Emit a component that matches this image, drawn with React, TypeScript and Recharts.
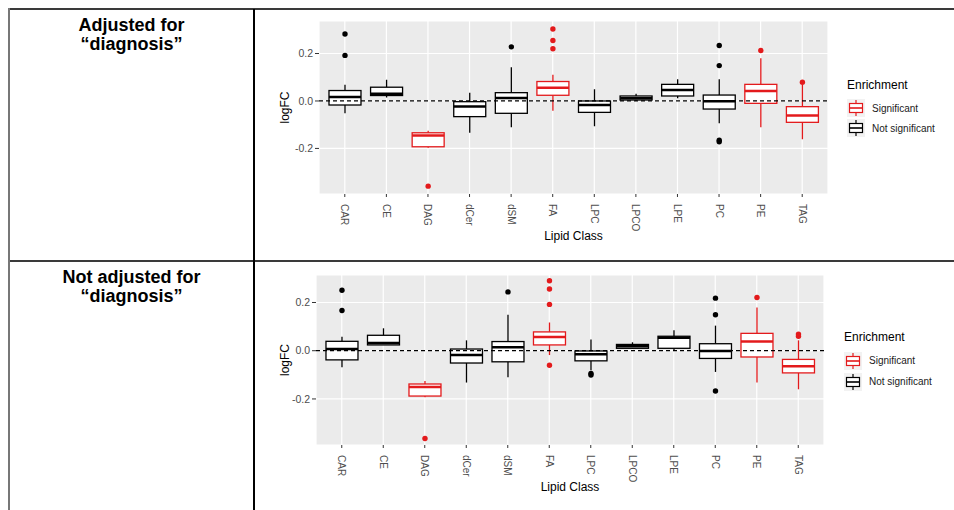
import {
    ComposedChart,
    XAxis,
    YAxis,
    CartesianGrid,
    Bar,
    ReferenceLine,
    Legend
} from 'recharts'

const lipidClasses = ['CAR', 'CE', 'DAG', 'dCer', 'dSM', 'FA', 'LPC', 'LPCO', 'LPE', 'PC', 'PE', 'TAG'];
const significant = [false, false, true, false, false, true, false, false, false, false, true, true];

// Ajustado por "diagnosis"
const lowAdj = [-0.052, 0.015, -0.197, -0.134, -0.111, -0.041, -0.106, 0.001, 0.011, -0.094, -0.111, -0.161];
const q1Adj = [-0.017, 0.023, -0.193, -0.066, -0.052, 0.024, -0.048, 0.004, 0.021, -0.034, -0.010, -0.090];
const medAdj = [0.017, 0.030, -0.145, -0.023, 0.013, 0.056, -0.017, 0.011, 0.046, -0.001, 0.042, -0.061];
const q3Adj = [0.044, 0.058, -0.134, -0.003, 0.035, 0.082, 0.000, 0.021, 0.070, 0.025, 0.070, -0.024];
const highAdj = [0.068, 0.089, -0.125, 0.035, 0.142, 0.110, 0.049, 0.030, 0.092, 0.092, 0.180, 0.068];
const outAdj = [[0.282, 0.192], [], [-0.359], [], [0.228], [0.303, 0.255, 0.220], [], [], [], [0.234, 0.149, -0.165, -0.172], [0.213], [0.079]];

// Sin ajustar
const lowNa = [-0.069, 0.024, -0.193, -0.132, -0.110, -0.018, -0.081, 0.008, 0.001, -0.088, -0.132, -0.160];
const q1Na = [-0.038, 0.024, -0.188, -0.051, -0.046, 0.024, -0.042, 0.010, 0.010, -0.032, -0.026, -0.092];
const medNa = [0.007, 0.032, -0.150, -0.018, 0.014, 0.057, -0.015, 0.019, 0.054, -0.001, 0.038, -0.064];
const q3Na = [0.039, 0.064, -0.138, 0.007, 0.038, 0.078, -0.001, 0.026, 0.060, 0.029, 0.072, -0.036];
const highNa = [0.058, 0.093, -0.126, 0.043, 0.149, 0.117, 0.046, 0.035, 0.085, 0.104, 0.179, 0.043];
const outNa = [[0.251, 0.167], [], [-0.364], [], [0.244], [0.290, 0.256, 0.192, -0.060], [-0.094, -0.101], [], [], [0.218, 0.149, -0.167], [0.221], [0.069, 0.060]];

const yTicks = [-0.2, 0, 0.2];
const yMinorTicks = [-0.3, -0.1, 0.1, 0.3];

const RED = '#E31A1C';
const FONT = '"Liberation Sans", Arial, sans-serif';

const buildRows = (low: number[], q1: number[], med: number[], q3: number[], high: number[], out: number[][]) =>
    lipidClasses.map((lipid, i) => ({
        lipid,
        sig: significant[i],
        q1: q1[i],
        med: med[i],
        q3: q3[i],
        low: low[i],
        high: high[i],
        out: out[i],
        range: [Math.min(low[i], ...out[i]), Math.max(high[i], ...out[i])]
    }));

const BoxShape = (props: any) => {
    const { x, y, width, height, payload } = props;
    if (!payload || !payload.range) return null;
    const [lo, hi] = payload.range;
    const top = Math.min(y, y + height);
    const bot = Math.max(y, y + height);
    const py = (v: number) => (hi === lo ? top : top + ((hi - v) / (hi - lo)) * (bot - top));
    const cx = x + width / 2;
    const color = payload.sig ? RED : '#000';
    return (
        <g>
            <line x1={cx} x2={cx} y1={py(payload.high)} y2={py(payload.q3)} stroke={color} strokeWidth={1.3} />
            <line x1={cx} x2={cx} y1={py(payload.q1)} y2={py(payload.low)} stroke={color} strokeWidth={1.3} />
            <rect x={x} y={py(payload.q3)} width={width} height={Math.max(py(payload.q1) - py(payload.q3), 0.5)}
                fill="#fff" stroke={color} strokeWidth={1.3} />
            <line x1={x} x2={x + width} y1={py(payload.med)} y2={py(payload.med)} stroke={color} strokeWidth={2.5} />
            {payload.out.map((v: number, k: number) => (
                <circle key={k} cx={cx} cy={py(v)} r={2.7} fill={payload.sig ? RED : '#000'} />
            ))}
        </g>
    );
};

const XTick = (props: any) => {
    const { x, y, payload } = props;
    return (
        <g transform={`translate(${x},${y})`}>
            <text transform="rotate(90)" x={0} y={0} dy="0.35em" textAnchor="start" fill="#4D4D4D" fontSize={10} fontFamily={FONT}>
                {payload.value}
            </text>
        </g>
    );
};

const KeyGlyph = ({ color }: { color: string }) => (
    <svg width={18} height={18} style={{ display: 'block' }}>
        <rect x={0} y={0} width={18} height={18} fill="#F2F2F2" />
        <line x1={9} x2={9} y1={1} y2={17} stroke={color} strokeWidth={1.2} />
        <rect x={2.5} y={4.5} width={13} height={9} fill="#fff" stroke={color} strokeWidth={1.2} />
        <line x1={2.5} x2={15.5} y1={9} y2={9} stroke={color} strokeWidth={1.6} />
    </svg>
);

const EnrichmentLegend = ({ rowH }: { rowH: number }) => (
    <div style={{ fontFamily: FONT }}>
        <div style={{ fontSize: 12, lineHeight: '14px', color: '#000', marginBottom: 6 }}>Enrichment</div>
        {[{ label: 'Significant', color: RED }, { label: 'Not significant', color: '#000' }].map((it) => (
            <div key={it.label} style={{ display: 'flex', alignItems: 'center', height: rowH }}>
                <KeyGlyph color={it.color} />
                <span style={{ fontSize: 10, color: '#1A1A1A', marginLeft: 7, whiteSpace: 'nowrap' }}>{it.label}</span>
            </div>
        ))}
    </div>
);

type PanelProps = {
    rows: any[]
    left: number
    top: number
    height: number
    yWidth: number
    marginRight: number
    domain: [number, number]
    legendLeft: number
    legendTop: number
    rowH: number
}

const BoxPanel = (p: PanelProps) => (
    <div style={{ position: 'absolute', left: p.left, top: p.top }}>
        <ComposedChart width={692} height={p.height} data={p.rows} barCategoryGap="12%"
            margin={{ top: 7, right: p.marginRight, left: 0, bottom: 0 }} style={{ fontFamily: FONT }}>
            <CartesianGrid fill="#EBEBEB" stroke="#fff" strokeWidth={1.2} />
            <CartesianGrid vertical={false} stroke="#fff" strokeWidth={0.6}
                horizontalCoordinatesGenerator={({ yAxis }: any) =>
                    yAxis && typeof yAxis.scale === 'function' ? yMinorTicks.map((v) => yAxis.scale(v)) : []} />
            <XAxis dataKey="lipid" type="category" interval={0} height={60} padding={{ left: 5, right: 5 }}
                tick={<XTick />} tickSize={3} tickMargin={7} axisLine={false} tickLine={{ stroke: '#333' }}
                label={{ value: 'Lipid Class', position: 'insideBottom', offset: 14, style: { fill: '#000', fontSize: 12 } }} />
            <YAxis type="number" domain={p.domain} allowDataOverflow ticks={yTicks} width={p.yWidth}
                tickFormatter={(v: number) => v.toFixed(1)} tickSize={4} tickMargin={2} axisLine={false}
                tickLine={{ stroke: '#333' }} tick={{ fill: '#4D4D4D', fontSize: 10.5 }}
                label={{ value: 'logFC', angle: -90, position: 'insideLeft', offset: 23, style: { textAnchor: 'middle', fill: '#000', fontSize: 12 } }} />
            <Bar dataKey="range" shape={<BoxShape />} isAnimationActive={false} />
            <ReferenceLine y={0} stroke="#000" strokeWidth={1.2} strokeDasharray="4 3" />
            <Legend layout="horizontal" verticalAlign="middle" align="center"
                wrapperStyle={{ left: p.legendLeft, top: p.legendTop, bottom: 'auto', width: 110 }}
                content={() => <EnrichmentLegend rowH={p.rowH} />} />
        </ComposedChart>
    </div>
);

const cellText: React.CSSProperties = {
    position: 'absolute',
    left: 10,
    width: 243,
    textAlign: 'center',
    fontFamily: FONT,
    fontWeight: 'bold',
    fontSize: 18,
    lineHeight: '19px',
    color: '#000'
};

const App = () => {
    const rowsAdj = buildRows(lowAdj, q1Adj, medAdj, q3Adj, highAdj, outAdj);
    const rowsNa = buildRows(lowNa, q1Na, medNa, q3Na, highNa, outNa);

    return (
        <div style={{ position: 'absolute', left: 0, top: 0, width: 954, height: 510, background: '#fff', overflow: 'hidden' }}>
            {/* tabla */}
            <div style={{ position: 'absolute', left: 8, top: 8, width: 946, height: 2, background: '#3A3A3A' }} />
            <div style={{ position: 'absolute', left: 8, top: 260, width: 946, height: 2, background: '#3A3A3A' }} />
            <div style={{ position: 'absolute', left: 8, top: 8, width: 2, height: 502, background: '#777' }} />
            <div style={{ position: 'absolute', left: 253, top: 9, width: 1.5, height: 501, background: '#000' }} />

            <div style={{ ...cellText, top: 16 }}>Adjusted for<br />“diagnosis”</div>
            <div style={{ ...cellText, top: 268 }}>Not adjusted for<br />“diagnosis”</div>

            <BoxPanel rows={rowsAdj} left={262} top={14} height={240} yWidth={57} marginRight={126}
                domain={[-0.392, 0.337]} legendLeft={585} legendTop={64} rowH={20} />
            <BoxPanel rows={rowsNa} left={262} top={268} height={237} yWidth={54} marginRight={130}
                domain={[-0.391, 0.314]} legendLeft={582} legendTop={62} rowH={21} />
        </div>
    )
}

export default App
